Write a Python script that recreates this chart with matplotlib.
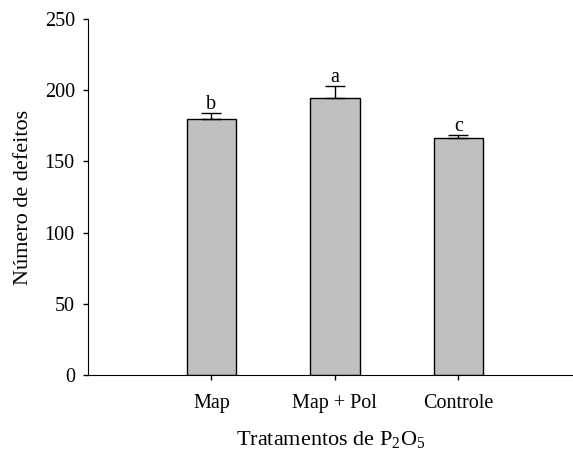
import matplotlib.pyplot as plt
import numpy as np

# data
tratamentos = ["Map", "Map + Pol", "Controle"]
defeitos = [179.6, 194.6, 166.5]
erro = [4.2, 8.0, 1.9]
letras = ["b", "a", "c"]

plt.rcParams["font.family"] = ["Liberation Serif", "DejaVu Serif"]
plt.rcParams["mathtext.fontset"] = "custom"
plt.rcParams["mathtext.rm"] = "Liberation Serif"

fig = plt.figure(figsize=(5.73, 4.5), dpi=100)
ax = fig.add_axes([0.1536, 0.1667, 0.8464, 0.7911])

x = np.arange(1, len(tratamentos) + 1)
ax.bar(x, defeitos, width=0.4, color="#c0c0c0", edgecolor="black", linewidth=1.0)
ax.errorbar(x, defeitos, yerr=[np.zeros(len(erro)), erro], fmt="none",
            ecolor="black", elinewidth=1.0, capsize=7, capthick=1.0)
for xi, yi, ei, l in zip(x, defeitos, erro, letras):
    ax.text(xi, yi + ei + 3.2, l, ha="center", va="baseline", fontsize=14.5)

ax.set_xlim(0, 3.93)
ax.set_ylim(0, 250)
ax.set_yticks([0, 50, 100, 150, 200, 250])
ax.set_xticks(x)
ax.set_xticklabels(tratamentos)
ax.tick_params(axis="both", labelsize=14.5, direction="out", length=3.5, width=1)
ax.tick_params(axis="x", pad=10)
ax.tick_params(axis="y", pad=6)
ax.spines["top"].set_visible(False)
ax.spines["right"].set_visible(False)
ax.set_ylabel("Número de defeitos", fontsize=16, labelpad=8.5)
ax.set_xlabel(r"Tratamentos de P$_2$O$_5$", fontsize=16, labelpad=12)

fig.savefig("out.png", dpi=100)
